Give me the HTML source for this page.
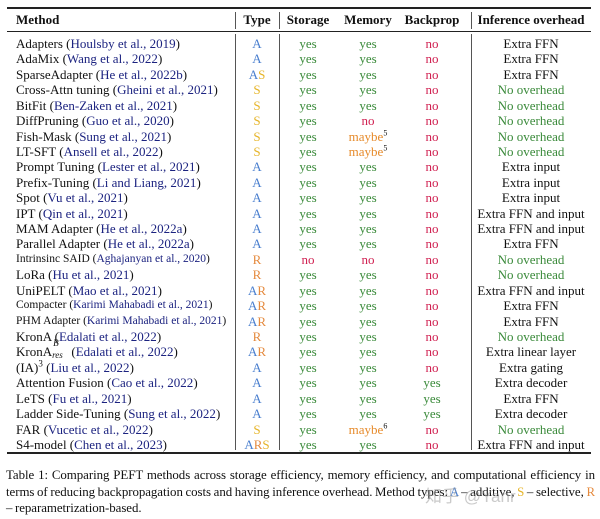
<!DOCTYPE html>
<html><head><meta charset="utf-8">
<style>
body{margin:0;background:#fff;}
#root{position:relative;width:600px;height:519px;overflow:hidden;font-family:"Liberation Serif","Noto Serif CJK SC",serif;color:#111;}
.rule{position:absolute;background:#222;}
.vl{position:absolute;width:1px;background:#555;}
.c{position:absolute;font-size:13px;line-height:15px;white-space:nowrap;}
.h{font-weight:bold;font-size:13px;}
.cit{color:#1c2380;}
.A{color:#4a7fcf}.S{color:#e6b52a}.R{color:#e58a3e}
.yes{color:#3a8a3a}.no{color:#d01f50}.maybe{color:#e68a2a}
.small{font-size:11.5px;}
sup,sub{line-height:0;}
.cap{position:absolute;left:6px;width:589px;font-size:12.9px;line-height:16.5px;text-align:justify;word-spacing:-0.6px;letter-spacing:-0.05px;}
</style></head>
<body>
<div id="root">
  <div class="rule" style="left:7px;top:7px;width:584px;height:1.5px"></div>
  <div class="rule" style="left:7px;top:31px;width:584px;height:1px"></div>
  <div class="rule" style="left:7px;top:452px;width:584px;height:1.5px"></div>
  <div class="vl" style="left:235px;top:12px;height:17px"></div>
  <div class="vl" style="left:279px;top:12px;height:17px"></div>
  <div class="vl" style="left:471px;top:12px;height:17px"></div>
  <div class="vl" style="left:235px;top:34px;height:416px"></div>
  <div class="vl" style="left:279px;top:34px;height:416px"></div>
  <div class="vl" style="left:471px;top:34px;height:416px"></div>

  <div class="c h" style="left:16px;top:12px">Method</div>
  <div class="c h" style="left:257px;top:12px;transform:translateX(-50%)">Type</div>
  <div class="c h" style="left:308px;top:12px;transform:translateX(-50%)">Storage</div>
  <div class="c h" style="left:368px;top:12px;transform:translateX(-50%)">Memory</div>
  <div class="c h" style="left:432px;top:12px;transform:translateX(-50%)">Backprop</div>
  <div class="c h" style="left:531px;top:12px;transform:translateX(-50%)">Inference overhead</div>

  <div id="rows"></div>

  <div class="cap" style="top:467px">Table 1: Comparing PEFT methods across storage efficiency, memory efficiency, and computational efficiency in terms of reducing backpropagation costs and having inference overhead. Method types: <span class="A">A</span> – additive, <span class="S">S</span> – selective, <span class="R">R</span> – reparametrization-based.</div>
  <div style="position:absolute;left:425px;top:482px;font-size:17px;color:rgba(150,150,150,0.5);font-family:'Liberation Sans','Noto Sans CJK SC',sans-serif">知乎 @Yanr</div>
</div>
<script>
const methods=["Adapters","AdaMix","SparseAdapter","Cross-Attn tuning","BitFit","DiffPruning","Fish-Mask","LT-SFT","Prompt Tuning","Prefix-Tuning","Spot","IPT","MAM Adapter","Parallel Adapter","Intrinsinc SAID","LoRa","UniPELT","Compacter","PHM Adapter","KronA","KronA<span style='position:relative;display:inline-block;width:16px;height:10px;font-size:9px;font-style:italic;line-height:0'><span style='position:absolute;left:1px;top:-3px'>B</span><span style='position:absolute;left:0;top:9px'>res</span></span>","(IA)<sup style='font-size:9px'>3</sup>","Attention Fusion","LeTS","Ladder Side-Tuning","FAR","S4-model"];
const cites=["Houlsby et al., 2019","Wang et al., 2022","He et al., 2022b","Gheini et al., 2021","Ben-Zaken et al., 2021","Guo et al., 2020","Sung et al., 2021","Ansell et al., 2022","Lester et al., 2021","Li and Liang, 2021","Vu et al., 2021","Qin et al., 2021","He et al., 2022a","He et al., 2022a","Aghajanyan et al., 2020","Hu et al., 2021","Mao et al., 2021","Karimi Mahabadi et al., 2021","Karimi Mahabadi et al., 2021","Edalati et al., 2022","Edalati et al., 2022","Liu et al., 2022","Cao et al., 2022","Fu et al., 2021","Sung et al., 2022","Vucetic et al., 2022","Chen et al., 2023"];
const types=["A","A","AS","S","S","S","S","S","A","A","A","A","A","A","R","R","AR","AR","AR","R","AR","A","A","A","A","S","ARS"];
const storage=["yes","yes","yes","yes","yes","yes","yes","yes","yes","yes","yes","yes","yes","yes","no","yes","yes","yes","yes","yes","yes","yes","yes","yes","yes","yes","yes"];
const memory=["yes","yes","yes","yes","yes","no","maybe5","maybe5","yes","yes","yes","yes","yes","yes","no","yes","yes","yes","yes","yes","yes","yes","yes","yes","yes","maybe6","yes"];
const backprop=["no","no","no","no","no","no","no","no","no","no","no","no","no","no","no","no","no","no","no","no","no","no","yes","yes","yes","no","no"];
const overhead=["Extra FFN","Extra FFN","Extra FFN","No overhead","No overhead","No overhead","No overhead","No overhead","Extra input","Extra input","Extra input","Extra FFN and input","Extra FFN and input","Extra FFN","No overhead","No overhead","Extra FFN and input","Extra FFN","Extra FFN","No overhead","Extra linear layer","Extra gating","Extra decoder","Extra FFN","Extra decoder","No overhead","Extra FFN and input"];
const small=[14,17,18];
const rows=document.getElementById('rows');
const top0=36, step=15.42;
function val(v){
  if(v.startsWith('maybe')) return "<span class='maybe'>maybe<sup style='font-size:8px;color:#111'>"+v.slice(5)+"</sup></span>";
  return "<span class='"+v+"'>"+v+"</span>";
}
function cell(x,y,html,center,name,cls){
  const d=document.createElement('div');
  d.className='c'+(cls?' '+cls:'');
  d.style.left=x+'px';d.style.top=y+'px';
  if(center) d.style.transform='translateX(-50%)';
  d.innerHTML=html;
  
  
  rows.appendChild(d);
}
methods.forEach((m,i)=>{
  const y=top0+i*step;
  const sm=small.includes(i);
  cell(16,y,m+" (<span class='cit'>"+cites[i]+"</span>)",false,'method-cell',sm?'small':'');
  cell(257,y,types[i].split('').map(t=>"<span class='"+t+"'>"+t+"</span>").join(''),true,'type-cell');
  cell(308,y,val(storage[i]),true,'storage-cell');
  cell(368,y,val(memory[i]),true,'memory-cell');
  cell(432,y,val(backprop[i]),true,'backprop-cell');
  const ov=overhead[i];
  cell(531,y,ov==="No overhead"?"<span class='yes'>"+ov+"</span>":ov,true,'overhead-cell');
});
</script>
</body></html>
